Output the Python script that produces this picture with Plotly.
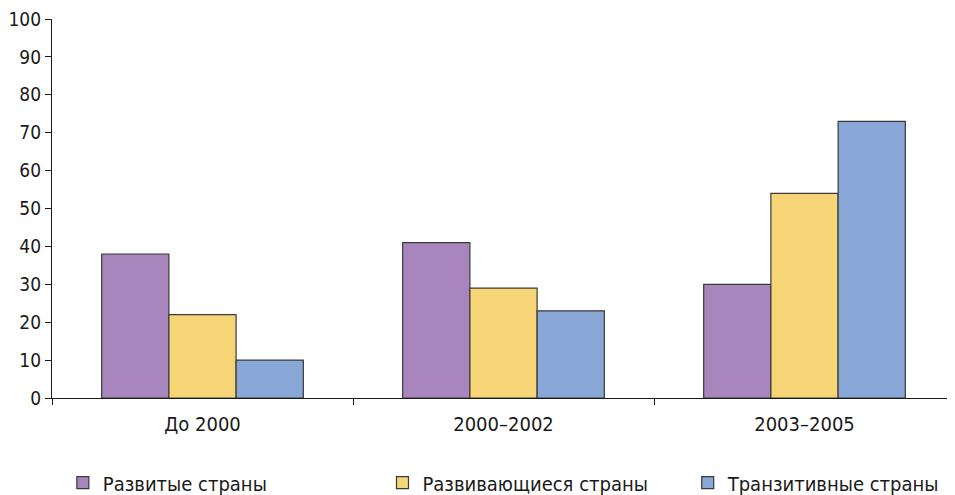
import plotly.graph_objects as go

categories = ["До 2000", "2000–2002", "2003–2005"]
developed = [38, 41, 30]
developing = [22, 29, 54]
transition = [10, 23, 73]
series_names = ["Развитые страны", "Развивающиеся страны", "Транзитивные страны"]
colors = ["#A985BE", "#F6D576", "#88A6D6"]
y_ticks = [0, 10, 20, 30, 40, 50, 60, 70, 80, 90, 100]

FONT = "DejaVu Sans Condensed, Liberation Sans Narrow, sans-serif"
legend_ids = ["legend", "legend2", "legend3"]
legend_x = [0.012, 0.366, 0.704]

fig = go.Figure()
for name, vals, col, lid in zip(series_names, [developed, developing, transition], colors, legend_ids):
    fig.add_trace(go.Bar(
        x=categories, y=vals, name=name, legend=lid,
        marker=dict(color=col, line=dict(color="#3a3a3a", width=1.2)),
    ))

legend_common = dict(
    orientation="h", xanchor="left", y=-0.172, yanchor="top",
    font=dict(family=FONT, size=20, color="#1a1a1a"),
    bgcolor="rgba(0,0,0,0)",
)

fig.update_layout(
    width=947, height=487,
    margin=dict(l=44, r=0, t=11, b=97, autoexpand=False),
    paper_bgcolor="white", plot_bgcolor="white",
    barmode="group", bargap=0.33, bargroupgap=0,
    font=dict(family=FONT, size=18, color="#1a1a1a"),
    showlegend=True,
    legend=dict(x=legend_x[0], **legend_common),
    legend2=dict(x=legend_x[1], **legend_common),
    legend3=dict(x=legend_x[2], **legend_common),
    xaxis=dict(
        showline=True, linecolor="#1a1a1a", linewidth=1.2,
        ticks="outside", tickson="boundaries", ticklen=6, tickcolor="#1a1a1a",
        tickfont=dict(family=FONT, size=20, color="#1a1a1a"),
        ticklabelstandoff=8,
        showgrid=False, zeroline=False,
    ),
    yaxis=dict(
        range=[0, 100], tickvals=y_ticks,
        showline=True, linecolor="#1a1a1a", linewidth=1.2,
        ticks="outside", ticklen=6, tickcolor="#1a1a1a",
        tickfont=dict(family=FONT, size=19, color="#1a1a1a"),
        ticklabeloverflow="allow",
        showgrid=False, zeroline=False,
    ),
)

fig.write_html("out.html")
